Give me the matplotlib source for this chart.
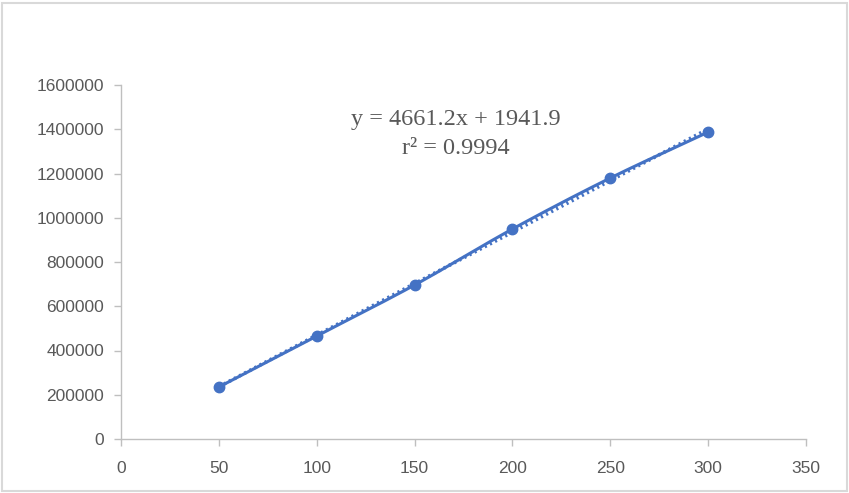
import numpy as np
import matplotlib
matplotlib.use("Agg")
import matplotlib.pyplot as plt
from matplotlib.patches import Rectangle

# Data
x_vals = [50, 100, 150, 200, 250, 300]
y_vals = [235000, 465500, 696000, 949000, 1179500, 1387000]
x_ticks = [0, 50, 100, 150, 200, 250, 300, 350]
y_ticks = [0, 200000, 400000, 600000, 800000, 1000000, 1200000, 1400000, 1600000]
eq_line1 = "y = 4661.2x + 1941.9"
eq_line2 = "r\u00b2 = 0.9994"

BLUE = "#4472C4"
GRAY_TXT = "#595959"
GRAY_AX = "#BFBFBF"

fig = plt.figure(figsize=(8.49, 4.93), dpi=100)
ax = fig.add_axes([121/849, 1-439/493, (806-121)/849, (439-85)/493])

x = np.array(x_vals, float)
y = np.array(y_vals, float)

# smoothed connecting line (Catmull-Rom through the data points)
def catmull_rom(px, py, n=30):
    P = np.column_stack([px, py])
    P = np.vstack([P[0] - (P[1] - P[0]), P, P[-1] + (P[-1] - P[-2])])
    out = []
    t = np.linspace(0, 1, n)[:, None]
    for i in range(1, len(P) - 2):
        p0, p1, p2, p3 = P[i-1], P[i], P[i+1], P[i+2]
        seg = 0.5 * ((2*p1) + (-p0 + p2)*t + (2*p0 - 5*p1 + 4*p2 - p3)*t**2 + (-p0 + 3*p1 - 3*p2 + p3)*t**3)
        out.append(seg if i == 1 else seg[1:])
    out = np.vstack(out)
    return out[:, 0], out[:, 1]

sx, sy = 1.957, 354/1.6e6
cx, cy = catmull_rom(x*sx, y*sy)
ax.plot(cx/sx, cy/sy, color=BLUE, lw=2.2, solid_capstyle="round", zorder=3)

# linear trendline
m, b = np.polyfit(x, y, 1)
tx = np.array([x.min(), x.max()])
ax.plot(tx, m*tx + b, color=BLUE, lw=2.6, linestyle=(0, (0.6, 1.0)), zorder=2)

ax.plot(x, y, 'o', color=BLUE, markersize=7.5, zorder=4)

ax.set_xlim(0, 350)
ax.set_ylim(0, 1600000)
ax.set_xticks(x_ticks)
ax.set_yticks(y_ticks)
ax.set_xticklabels([str(v) for v in x_ticks])
ax.set_yticklabels([str(v) for v in y_ticks])

for s in ["top", "right"]:
    ax.spines[s].set_visible(False)
for s in ["left", "bottom"]:
    ax.spines[s].set_color(GRAY_AX)
    ax.spines[s].set_linewidth(1.0)

ax.tick_params(axis="both", colors=GRAY_AX, length=5, width=1.0, labelcolor=GRAY_TXT,
               labelsize=12.5)
ax.tick_params(axis="x", pad=11)
ax.tick_params(axis="y", pad=7)
for lab in ax.get_xticklabels() + ax.get_yticklabels():
    lab.set_family("Liberation Sans")

fig.text(456/849, 1-119/493, eq_line1, ha="center", va="center", color=GRAY_TXT,
         fontsize=17.5, family="Liberation Serif")
fig.text(456/849, 1-148/493, eq_line2, ha="center", va="center", color=GRAY_TXT,
         fontsize=17.5, family="Liberation Serif")

fig.patches.append(Rectangle((2/849, 2/493), 845/849, 488/493, transform=fig.transFigure,
                             fill=False, edgecolor="#D9D9D9", lw=1.5))

fig.savefig("out.png", dpi=100)
